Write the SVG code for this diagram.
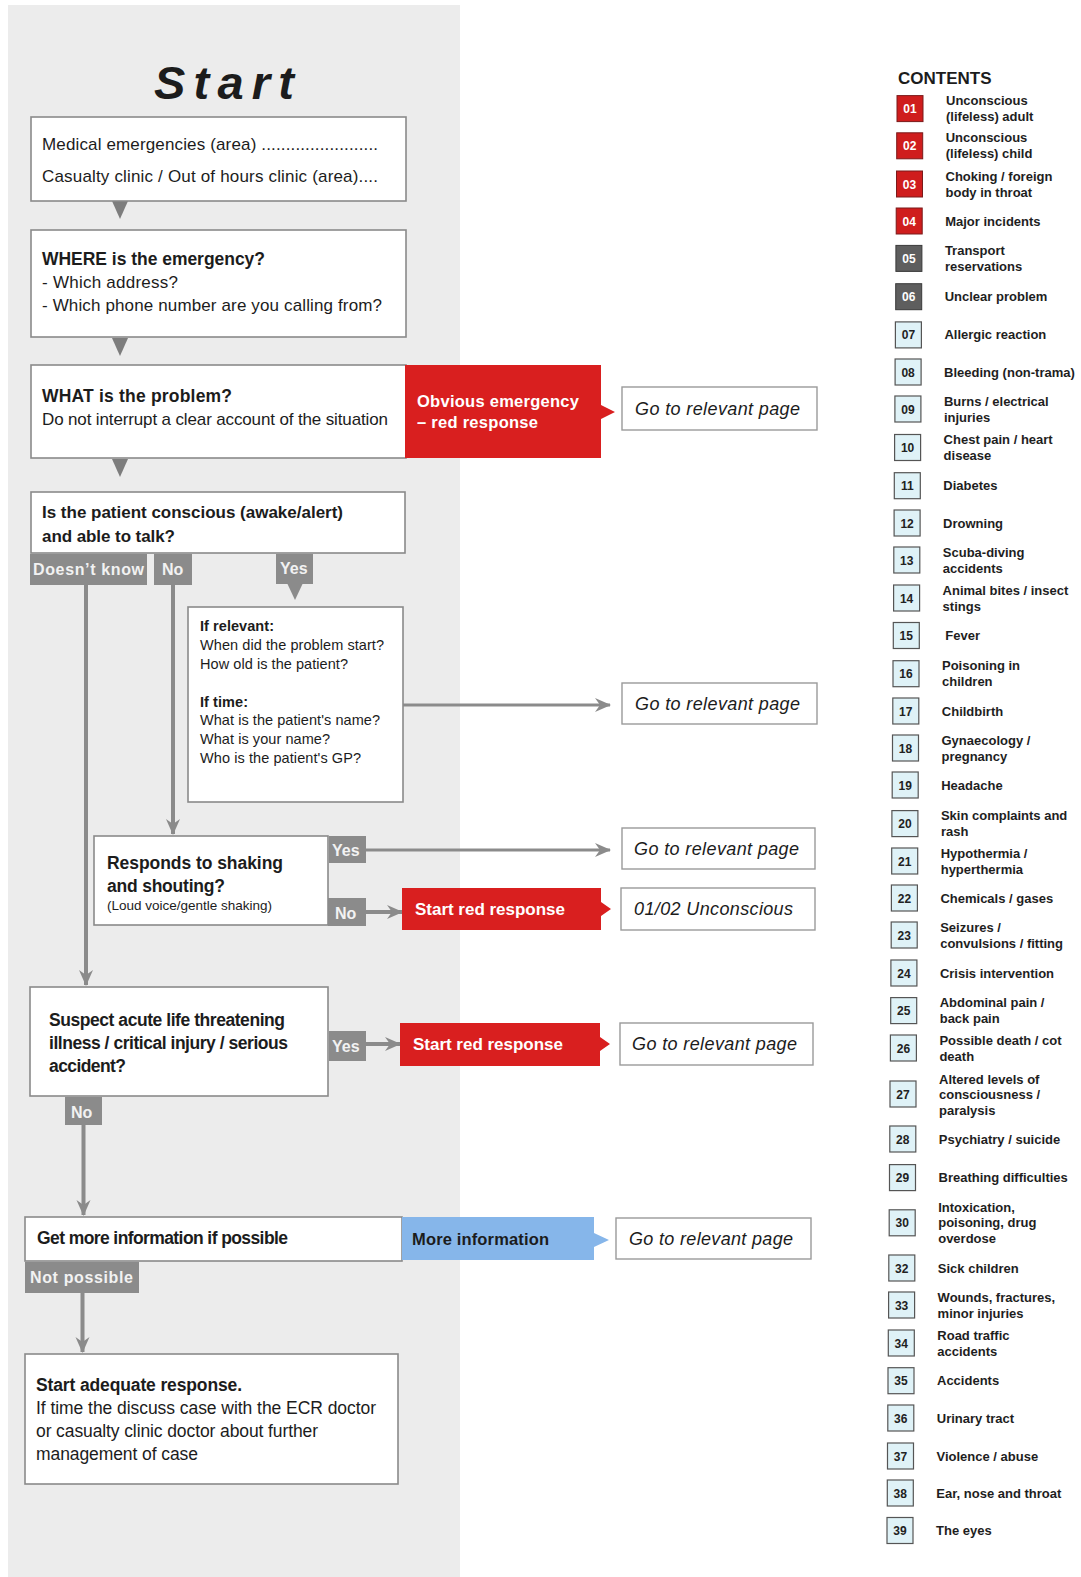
<svg xmlns="http://www.w3.org/2000/svg" width="1081" height="1577" viewBox="0 0 1081 1577">
<defs>
<style>
.box{fill:#fff;stroke:#8a8a8a;stroke-width:1.6}
.goto{fill:#fff;stroke:#9a9a9a;stroke-width:1.4}
.t{font-family:"Liberation Sans",Arial,sans-serif;fill:#1c1c1c}
.b{font-weight:bold}
.it{font-style:italic}
.w{fill:#fff}
.red{fill:#d91f1f}
.blue{fill:#86b6ea}
.tab{fill:#8b8b8b}
.tabt{font-family:"Liberation Sans",Arial,sans-serif;font-weight:bold;font-size:16px;fill:#f2f2f2}
.ln{stroke:#8b8b8b;fill:none}
.v{stroke-width:4}
.h{stroke-width:3}
.tri{fill:#7d7d7d}
.cr{fill:#cf1d1d;stroke:#7a1a1a;stroke-width:1}
.cg{fill:#5e5e5e;stroke:#3a3a3a;stroke-width:1}
.cb{fill:#dff2f7;stroke:#555;stroke-width:1.2}
.cn{font-family:"Liberation Sans",Arial,sans-serif;font-weight:bold;font-size:12px;text-anchor:middle}
.cnw{fill:#fff}
.cnd{fill:#222}
.cl{font-family:"Liberation Sans",Arial,sans-serif;font-weight:bold;font-size:13px;fill:#1e1e1e}
</style>
<marker id="ah" markerUnits="userSpaceOnUse" viewBox="0 0 16 16" refX="15" refY="8" markerWidth="16" markerHeight="16" orient="auto">
<path d="M0,1 L16,8 L0,15 L5,8 Z" fill="#8b8b8b"/>
</marker>
</defs>

<rect x="0" y="0" width="1081" height="1577" fill="#fff"/>
<rect x="8" y="5" width="452" height="1572" fill="#ececec"/>

<text class="t b it" x="154" y="99" font-size="47" textLength="140" lengthAdjust="spacing" fill="#2b2b2b">Start</text>

<!-- connectors -->
<g id="connectors">
  <polygon class="tri" points="112,201 128,201 120,219"/>
  <polygon class="tri" points="112,338 128,338 120,356"/>
  <polygon class="tri" points="112,459 128,459 120,477"/>
  <line class="ln v" x1="86" y1="585" x2="86" y2="985" marker-end="url(#ah)"/>
  <line class="ln v" x1="173" y1="585" x2="173" y2="834" marker-end="url(#ah)"/>
  <line class="ln h" x1="403" y1="705" x2="610" y2="705" marker-end="url(#ah)"/>
  <line class="ln h" x1="366" y1="850" x2="610" y2="850" marker-end="url(#ah)"/>
  <line class="ln v" x1="366" y1="912" x2="402" y2="912" marker-end="url(#ah)"/>
  <line class="ln v" x1="366" y1="1044" x2="400" y2="1044" marker-end="url(#ah)"/>
  <line class="ln v" x1="83.5" y1="1125" x2="83.5" y2="1215" marker-end="url(#ah)"/>
  <line class="ln v" x1="82.5" y1="1293" x2="82.5" y2="1352" marker-end="url(#ah)"/>
  <!-- edge labels -->
  <rect class="tab" x="30" y="554" width="117" height="31"/>
  <text class="tabt" x="33" y="575" font-size="17" textLength="111">Doesn’t know</text>
  <rect class="tab" x="154" y="554" width="38" height="31"/>
  <text class="tabt" x="162" y="575">No</text>
  <rect class="tab" x="276" y="554" width="37" height="30"/>
  <polygon class="tab" points="287,583 303,583 295,600"/>
  <text class="tabt" x="280" y="574">Yes</text>
  <rect class="tab" x="329" y="836" width="37" height="27"/>
  <text class="tabt" x="332" y="856">Yes</text>
  <rect class="tab" x="328" y="898" width="38" height="28"/>
  <text class="tabt" x="335" y="919">No</text>
  <rect class="tab" x="329" y="1031" width="37" height="30"/>
  <text class="tabt" x="332" y="1052">Yes</text>
  <rect class="tab" x="65" y="1097" width="37" height="28"/>
  <text class="tabt" x="71" y="1118">No</text>
  <rect class="tab" x="25" y="1262" width="114" height="31"/>
  <text class="tabt" x="30" y="1283" font-size="17" textLength="103">Not possible</text>
</g>

<g id="n-area">
  <rect class="box" x="31" y="117" width="375" height="84"/>
  <text class="t" x="42" y="150" font-size="17" textLength="336">Medical emergencies (area) ........................</text>
  <text class="t" x="42" y="182" font-size="17" textLength="336">Casualty clinic / Out of hours clinic (area)....</text>
</g>

<g id="n-where">
  <rect class="box" x="31" y="230" width="375" height="107"/>
  <text class="t b" x="42" y="265" font-size="17.5" textLength="223">WHERE is the emergency?</text>
  <text class="t" x="42" y="288" font-size="17" textLength="136">- Which address?</text>
  <text class="t" x="42" y="311" font-size="17" textLength="340">- Which phone number are you calling from?</text>
</g>

<g id="n-what">
  <rect class="box" x="31" y="365" width="375" height="93"/>
  <text class="t b" x="42" y="402" font-size="17.5" textLength="190">WHAT is the problem?</text>
  <text class="t" x="42" y="425" font-size="17" textLength="346">Do not interrupt a clear account of the situation</text>
</g>

<g id="n-obvious">
  <path class="red" d="M405,365 H601 V405 L615,412 L601,419 V458 H405 Z"/>
  <text class="t b w" x="417" y="407" font-size="16.5" textLength="162">Obvious emergency</text>
  <text class="t b w" x="417" y="428" font-size="16.5" textLength="121">– red response</text>
</g>

<g id="n-goto1">
  <rect class="goto" x="622" y="387" width="195" height="43"/>
  <text class="t it" x="635" y="415" font-size="18" textLength="165">Go to relevant page</text>
</g>

<g id="n-conscious">
  <rect class="box" x="31" y="492" width="374" height="61"/>
  <text class="t b" x="42" y="518" font-size="17" textLength="301">Is the patient conscious (awake/alert)</text>
  <text class="t b" x="42" y="542" font-size="17" textLength="133">and able to talk?</text>
</g>

<g id="n-ifrelevant">
  <rect class="box" x="188" y="607" width="215" height="195"/>
  <text class="t b" x="200" y="631" font-size="14.5" textLength="74">If relevant:</text>
  <text class="t" x="200" y="650" font-size="14.5" textLength="184">When did the problem start?</text>
  <text class="t" x="200" y="669" font-size="14.5" textLength="148">How old is the patient?</text>
  <text class="t b" x="200" y="707" font-size="14.5" textLength="48">If time:</text>
  <text class="t" x="200" y="725" font-size="14.5" textLength="180">What is the patient's name?</text>
  <text class="t" x="200" y="744" font-size="14.5" textLength="130">What is your name?</text>
  <text class="t" x="200" y="763" font-size="14.5" textLength="161">Who is the patient's GP?</text>
</g>

<g id="n-goto2">
  <rect class="goto" x="622" y="683" width="195" height="41"/>
  <text class="t it" x="635" y="710" font-size="18" textLength="165">Go to relevant page</text>
</g>

<g id="n-responds">
  <rect class="box" x="94" y="836" width="234" height="89"/>
  <text class="t b" x="107" y="869" font-size="17.5" textLength="176">Responds to shaking</text>
  <text class="t b" x="107" y="892" font-size="17.5" textLength="118">and shouting?</text>
  <text class="t" x="107" y="910" font-size="13.5" textLength="165">(Loud voice/gentle shaking)</text>
</g>

<g id="n-goto3">
  <rect class="goto" x="622" y="828" width="193" height="41"/>
  <text class="t it" x="634" y="855" font-size="18" textLength="165">Go to relevant page</text>
</g>

<g id="n-red1">
  <path class="red" d="M402,888 H601 V902 L611,909 L601,916 V930 H402 Z"/>
  <text class="t b w" x="415" y="915" font-size="17" textLength="150">Start red response</text>
</g>

<g id="n-unconscious">
  <rect class="goto" x="621" y="888" width="194" height="42"/>
  <text class="t it" x="634" y="915" font-size="18" textLength="159">01/02 Unconscious</text>
</g>

<g id="n-suspect">
  <rect class="box" x="30" y="987" width="298" height="109"/>
  <text class="t b" x="49" y="1026" font-size="17.5" textLength="236">Suspect acute life threatening</text>
  <text class="t b" x="49" y="1049" font-size="17.5" textLength="239">illness / critical injury / serious</text>
  <text class="t b" x="49" y="1072" font-size="17.5" textLength="77">accident?</text>
</g>

<g id="n-red2">
  <path class="red" d="M400,1023 H600 V1037 L610,1044 L600,1051 V1066 H400 Z"/>
  <text class="t b w" x="413" y="1050" font-size="17" textLength="150">Start red response</text>
</g>

<g id="n-goto4">
  <rect class="goto" x="620" y="1023" width="193" height="42"/>
  <text class="t it" x="632" y="1050" font-size="18" textLength="165">Go to relevant page</text>
</g>

<g id="n-moreinfo">
  <rect class="box" x="25" y="1217" width="377" height="44"/>
  <text class="t b" x="37" y="1244" font-size="17.5" textLength="251">Get more information if possible</text>
</g>

<g id="n-more">
  <path class="blue" d="M402,1217 H594 V1233 L609,1240 L594,1247 V1260 H402 Z"/>
  <text class="t b" x="412" y="1245" font-size="16.5" textLength="137">More information</text>
</g>

<g id="n-goto5">
  <rect class="goto" x="616" y="1218" width="195" height="41"/>
  <text class="t it" x="629" y="1245" font-size="18" textLength="164">Go to relevant page</text>
</g>

<g id="n-adequate">
  <rect class="box" x="25" y="1354" width="373" height="130"/>
  <text class="t b" x="36" y="1391" font-size="17.5" textLength="206">Start adequate response.</text>
  <text class="t" x="36" y="1414" font-size="17.5" textLength="340">If time the discuss case with the ECR doctor</text>
  <text class="t" x="36" y="1437" font-size="17.5" textLength="282">or casualty clinic doctor about further</text>
  <text class="t" x="36" y="1460" font-size="17.5" textLength="162">management of case</text>
</g>

<!-- contents -->
<g id="contents">
  <text class="t b" x="898" y="84" font-size="17">CONTENTS</text>
  <g id="c01" transform="translate(897,108.6)"><rect class="cr" x="0" y="-13" width="26" height="26"/><text class="cn cnw" x="13" y="4.5">01</text><text class="cl" x="49" y="-3.5">Unconscious</text><text class="cl" x="49" y="12.5">(lifeless) adult</text></g>
  <g id="c02" transform="translate(896.7,145.8)"><rect class="cr" x="0" y="-13" width="26" height="26"/><text class="cn cnw" x="13" y="4.5">02</text><text class="cl" x="49" y="-3.5">Unconscious</text><text class="cl" x="49" y="12.5">(lifeless) child</text></g>
  <g id="c03" transform="translate(896.5,184)"><rect class="cr" x="0" y="-13" width="26" height="26"/><text class="cn cnw" x="13" y="4.5">03</text><text class="cl" x="49" y="-3.5">Choking / foreign</text><text class="cl" x="49" y="12.5">body in throat</text></g>
  <g id="c04" transform="translate(896.2,221)"><rect class="cr" x="0" y="-13" width="26" height="26"/><text class="cn cnw" x="13" y="4.5">04</text><text class="cl" x="49" y="4.5">Major incidents</text></g>
  <g id="c05" transform="translate(895.9,258.4)"><rect class="cg" x="0" y="-13" width="26" height="26"/><text class="cn cnw" x="13" y="4.5">05</text><text class="cl" x="49" y="-3.5">Transport</text><text class="cl" x="49" y="12.5">reservations</text></g>
  <g id="c06" transform="translate(895.7,296.7)"><rect class="cg" x="0" y="-13" width="26" height="26"/><text class="cn cnw" x="13" y="4.5">06</text><text class="cl" x="49" y="4.5">Unclear problem</text></g>
  <g id="c07" transform="translate(895.4,334.9)"><rect class="cb" x="0" y="-13" width="26" height="26"/><text class="cn cnd" x="13" y="4.5">07</text><text class="cl" x="49" y="4.5">Allergic reaction</text></g>
  <g id="c08" transform="translate(895.1,372)"><rect class="cb" x="0" y="-13" width="26" height="26"/><text class="cn cnd" x="13" y="4.5">08</text><text class="cl" x="49" y="4.5">Bleeding (non-trama)</text></g>
  <g id="c09" transform="translate(894.9,409)"><rect class="cb" x="0" y="-13" width="26" height="26"/><text class="cn cnd" x="13" y="4.5">09</text><text class="cl" x="49" y="-3.5">Burns / electrical</text><text class="cl" x="49" y="12.5">injuries</text></g>
  <g id="c10" transform="translate(894.6,447.5)"><rect class="cb" x="0" y="-13" width="26" height="26"/><text class="cn cnd" x="13" y="4.5">10</text><text class="cl" x="49" y="-3.5">Chest pain / heart</text><text class="cl" x="49" y="12.5">disease</text></g>
  <g id="c11" transform="translate(894.3,485.7)"><rect class="cb" x="0" y="-13" width="26" height="26"/><text class="cn cnd" x="13" y="4.5">11</text><text class="cl" x="49" y="4.5">Diabetes</text></g>
  <g id="c12" transform="translate(894.1,523)"><rect class="cb" x="0" y="-13" width="26" height="26"/><text class="cn cnd" x="13" y="4.5">12</text><text class="cl" x="49" y="4.5">Drowning</text></g>
  <g id="c13" transform="translate(893.8,560)"><rect class="cb" x="0" y="-13" width="26" height="26"/><text class="cn cnd" x="13" y="4.5">13</text><text class="cl" x="49" y="-3.5">Scuba-diving</text><text class="cl" x="49" y="12.5">accidents</text></g>
  <g id="c14" transform="translate(893.6,598)"><rect class="cb" x="0" y="-13" width="26" height="26"/><text class="cn cnd" x="13" y="4.5">14</text><text class="cl" x="49" y="-3.5">Animal bites / insect</text><text class="cl" x="49" y="12.5">stings</text></g>
  <g id="c15" transform="translate(893.3,635.5)"><rect class="cb" x="0" y="-13" width="26" height="26"/><text class="cn cnd" x="13" y="4.5">15</text><text class="cl" x="52" y="4.5">Fever</text></g>
  <g id="c16" transform="translate(893,673.7)"><rect class="cb" x="0" y="-13" width="26" height="26"/><text class="cn cnd" x="13" y="4.5">16</text><text class="cl" x="49" y="-3.5">Poisoning in</text><text class="cl" x="49" y="12.5">children</text></g>
  <g id="c17" transform="translate(892.8,711)"><rect class="cb" x="0" y="-13" width="26" height="26"/><text class="cn cnd" x="13" y="4.5">17</text><text class="cl" x="49" y="4.5">Childbirth</text></g>
  <g id="c18" transform="translate(892.5,748)"><rect class="cb" x="0" y="-13" width="26" height="26"/><text class="cn cnd" x="13" y="4.5">18</text><text class="cl" x="49" y="-3.5">Gynaecology /</text><text class="cl" x="49" y="12.5">pregnancy</text></g>
  <g id="c19" transform="translate(892.2,785)"><rect class="cb" x="0" y="-13" width="26" height="26"/><text class="cn cnd" x="13" y="4.5">19</text><text class="cl" x="49" y="4.5">Headache</text></g>
  <g id="c20" transform="translate(891.9,823.6)"><rect class="cb" x="0" y="-13" width="26" height="26"/><text class="cn cnd" x="13" y="4.5">20</text><text class="cl" x="49" y="-3.5">Skin complaints and</text><text class="cl" x="49" y="12.5">rash</text></g>
  <g id="c21" transform="translate(891.7,861)"><rect class="cb" x="0" y="-13" width="26" height="26"/><text class="cn cnd" x="13" y="4.5">21</text><text class="cl" x="49" y="-3.5">Hypothermia /</text><text class="cl" x="49" y="12.5">hyperthermia</text></g>
  <g id="c22" transform="translate(891.4,898)"><rect class="cb" x="0" y="-13" width="26" height="26"/><text class="cn cnd" x="13" y="4.5">22</text><text class="cl" x="49" y="4.5">Chemicals / gases</text></g>
  <g id="c23" transform="translate(891.2,935)"><rect class="cb" x="0" y="-13" width="26" height="26"/><text class="cn cnd" x="13" y="4.5">23</text><text class="cl" x="49" y="-3.5">Seizures /</text><text class="cl" x="49" y="12.5">convulsions / fitting</text></g>
  <g id="c24" transform="translate(890.9,973)"><rect class="cb" x="0" y="-13" width="26" height="26"/><text class="cn cnd" x="13" y="4.5">24</text><text class="cl" x="49" y="4.5">Crisis intervention</text></g>
  <g id="c25" transform="translate(890.7,1010.6)"><rect class="cb" x="0" y="-13" width="26" height="26"/><text class="cn cnd" x="13" y="4.5">25</text><text class="cl" x="49" y="-3.5">Abdominal pain /</text><text class="cl" x="49" y="12.5">back pain</text></g>
  <g id="c26" transform="translate(890.4,1048)"><rect class="cb" x="0" y="-13" width="26" height="26"/><text class="cn cnd" x="13" y="4.5">26</text><text class="cl" x="49" y="-3.5">Possible death / cot</text><text class="cl" x="49" y="12.5">death</text></g>
  <g id="c27" transform="translate(890,1094)"><rect class="cb" x="0" y="-13" width="26" height="26"/><text class="cn cnd" x="13" y="4.5">27</text><text class="cl" x="49" y="-10.5">Altered levels of</text><text class="cl" x="49" y="4.5">consciousness /</text><text class="cl" x="49" y="20.5">paralysis</text></g>
  <g id="c28" transform="translate(889.8,1139)"><rect class="cb" x="0" y="-13" width="26" height="26"/><text class="cn cnd" x="13" y="4.5">28</text><text class="cl" x="49" y="4.5">Psychiatry / suicide</text></g>
  <g id="c29" transform="translate(889.5,1177.6)"><rect class="cb" x="0" y="-13" width="26" height="26"/><text class="cn cnd" x="13" y="4.5">29</text><text class="cl" x="49" y="4.5">Breathing difficulties</text></g>
  <g id="c30" transform="translate(889.2,1222.8)"><rect class="cb" x="0" y="-13" width="26" height="26"/><text class="cn cnd" x="13" y="4.5">30</text><text class="cl" x="49" y="-10.5">Intoxication,</text><text class="cl" x="49" y="4.5">poisoning, drug</text><text class="cl" x="49" y="20.5">overdose</text></g>
  <g id="c32" transform="translate(888.8,1268)"><rect class="cb" x="0" y="-13" width="26" height="26"/><text class="cn cnd" x="13" y="4.5">32</text><text class="cl" x="49" y="4.5">Sick children</text></g>
  <g id="c33" transform="translate(888.6,1305)"><rect class="cb" x="0" y="-13" width="26" height="26"/><text class="cn cnd" x="13" y="4.5">33</text><text class="cl" x="49" y="-3.5">Wounds, fractures,</text><text class="cl" x="49" y="12.5">minor injuries</text></g>
  <g id="c34" transform="translate(888.3,1343)"><rect class="cb" x="0" y="-13" width="26" height="26"/><text class="cn cnd" x="13" y="4.5">34</text><text class="cl" x="49" y="-3.5">Road traffic</text><text class="cl" x="49" y="12.5">accidents</text></g>
  <g id="c35" transform="translate(888,1380.7)"><rect class="cb" x="0" y="-13" width="26" height="26"/><text class="cn cnd" x="13" y="4.5">35</text><text class="cl" x="49" y="4.5">Accidents</text></g>
  <g id="c36" transform="translate(887.8,1418)"><rect class="cb" x="0" y="-13" width="26" height="26"/><text class="cn cnd" x="13" y="4.5">36</text><text class="cl" x="49" y="4.5">Urinary tract</text></g>
  <g id="c37" transform="translate(887.5,1456)"><rect class="cb" x="0" y="-13" width="26" height="26"/><text class="cn cnd" x="13" y="4.5">37</text><text class="cl" x="49" y="4.5">Violence / abuse</text></g>
  <g id="c38" transform="translate(887.3,1493)"><rect class="cb" x="0" y="-13" width="26" height="26"/><text class="cn cnd" x="13" y="4.5">38</text><text class="cl" x="49" y="4.5">Ear, nose and throat</text></g>
  <g id="c39" transform="translate(887,1530.5)"><rect class="cb" x="0" y="-13" width="26" height="26"/><text class="cn cnd" x="13" y="4.5">39</text><text class="cl" x="49" y="4.5">The eyes</text></g>
</g>
</svg>
